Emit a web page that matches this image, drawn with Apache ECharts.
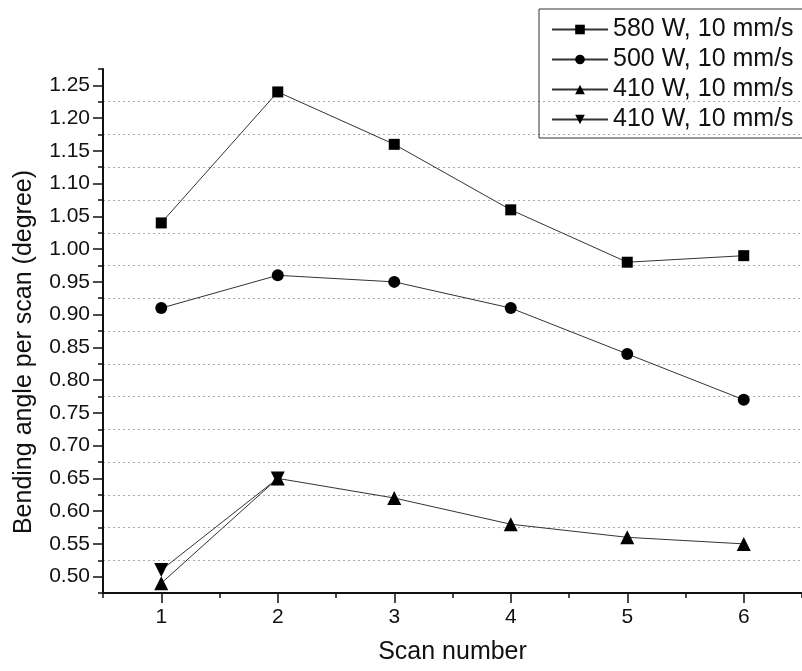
<!DOCTYPE html>
<html>
<head>
<meta charset="utf-8">
<script src="https://cdn.jsdelivr.net/npm/echarts@6/dist/echarts.min.js"></script>
<style>
  html, body { margin: 0; padding: 0; background: #fff; }
  #chart { width: 802px; height: 671px; }
</style>
</head>
<body>
<div id="chart"></div>
<script>
var scans = [1, 2, 3, 4, 5, 6];
var s580 = [1.04, 1.24, 1.16, 1.06, 0.98, 0.99];
var s500 = [0.91, 0.96, 0.95, 0.91, 0.84, 0.77];
var s410up = [0.49, 0.65, 0.62, 0.58, 0.56, 0.55];
var s410down = [0.51, 0.65];
var legendNames = ['580 W, 10 mm/s', '500 W, 10 mm/s', '410 W, 10 mm/s', '410 W, 10 mm/s'];
var yTicks = [0.50, 0.55, 0.60, 0.65, 0.70, 0.75, 0.80, 0.85, 0.90, 0.95, 1.00, 1.05, 1.10, 1.15, 1.20, 1.25];
var xTicks = [1, 2, 3, 4, 5, 6];

var font = 'Liberation Sans, Arial, sans-serif';
var chart = echarts.init(document.getElementById('chart'));

function pairs(ys) {
  return ys.map(function(v, i) { return [scans[i], v]; });
}

function makeSeries(key, ys, symbol, size, rotate) {
  return {
    name: key,
    type: 'line',
    data: pairs(ys),
    symbol: symbol,
    symbolSize: size,
    symbolRotate: rotate || 0,
    itemStyle: { color: '#000' },
    lineStyle: { color: '#333', width: 1 },
    emphasis: { disabled: true },
    animation: false
  };
}

var keys = ['a', 'b', 'c', 'd'];

chart.setOption({
  backgroundColor: '#fff',
  animation: false,
  legend: {
    data: keys,
    orient: 'vertical',
    left: 539,
    top: 9,
    padding: [8, 14, 6, 12],
    itemGap: 5,
    itemWidth: 56,
    itemHeight: 12,
    borderColor: '#333',
    borderWidth: 1,
    textStyle: { fontFamily: font, fontSize: 25, color: '#111' },
    formatter: function(name) { return legendNames[keys.indexOf(name)]; }
  },
  grid: { left: 103, top: 69, width: 706, height: 524 },
  xAxis: [{
    type: 'value',
    position: 'bottom',
    min: 0.5,
    max: 6.5,
    interval: 0.5,
    axisLine: { lineStyle: { color: '#111', width: 2 } },
    axisTick: { length: 5, lineStyle: { color: '#111', width: 1.5 } },
    axisLabel: { show: false },
    splitLine: { show: false }
  }, {
    type: 'value',
    position: 'bottom',
    min: 0.5,
    max: 6.5,
    axisLine: { show: false },
    axisTick: { customValues: xTicks, length: 10, lineStyle: { color: '#111', width: 1.5 } },
    axisLabel: { customValues: xTicks, margin: 14, fontFamily: font, fontSize: 21, color: '#111' },
    splitLine: { show: false },
    name: 'Scan number',
    nameLocation: 'middle',
    nameGap: 47,
    nameTextStyle: { fontFamily: font, fontSize: 25, color: '#111' }
  }],
  yAxis: [{
    type: 'value',
    min: 0.475,
    max: 1.275,
    axisLine: { show: true, lineStyle: { color: '#111', width: 2 } },
    axisTick: { customValues: yTicks, length: 10, lineStyle: { color: '#111', width: 1.5 } },
    axisLabel: {
      customValues: yTicks, margin: 13, fontFamily: font, fontSize: 21, color: '#111',
      formatter: function(v) { return v.toFixed(2); }
    },
    splitLine: { show: false },
    name: 'Bending angle per scan (degree)',
    nameLocation: 'middle',
    nameGap: 66,
    nameTextStyle: { fontFamily: font, fontSize: 25, color: '#111', padding: [0, 42, 0, 0] }
  }, {
    type: 'value',
    position: 'left',
    min: 0.475,
    max: 1.275,
    interval: 0.05,
    axisLine: { show: false },
    axisTick: { show: true, length: 5, lineStyle: { color: '#111', width: 1.5 } },
    axisLabel: { show: false },
    splitLine: {
      show: true, showMinLine: false, showMaxLine: false,
      lineStyle: { color: '#aaa', type: [2, 3], width: 1 }
    }
  }],
  series: [
    makeSeries('a', s580, 'rect', 11),
    makeSeries('b', s500, 'circle', 12),
    makeSeries('c', s410up, 'triangle', 14),
    makeSeries('d', s410down, 'triangle', 14, 180)
  ]
});
</script>
</body>
</html>
